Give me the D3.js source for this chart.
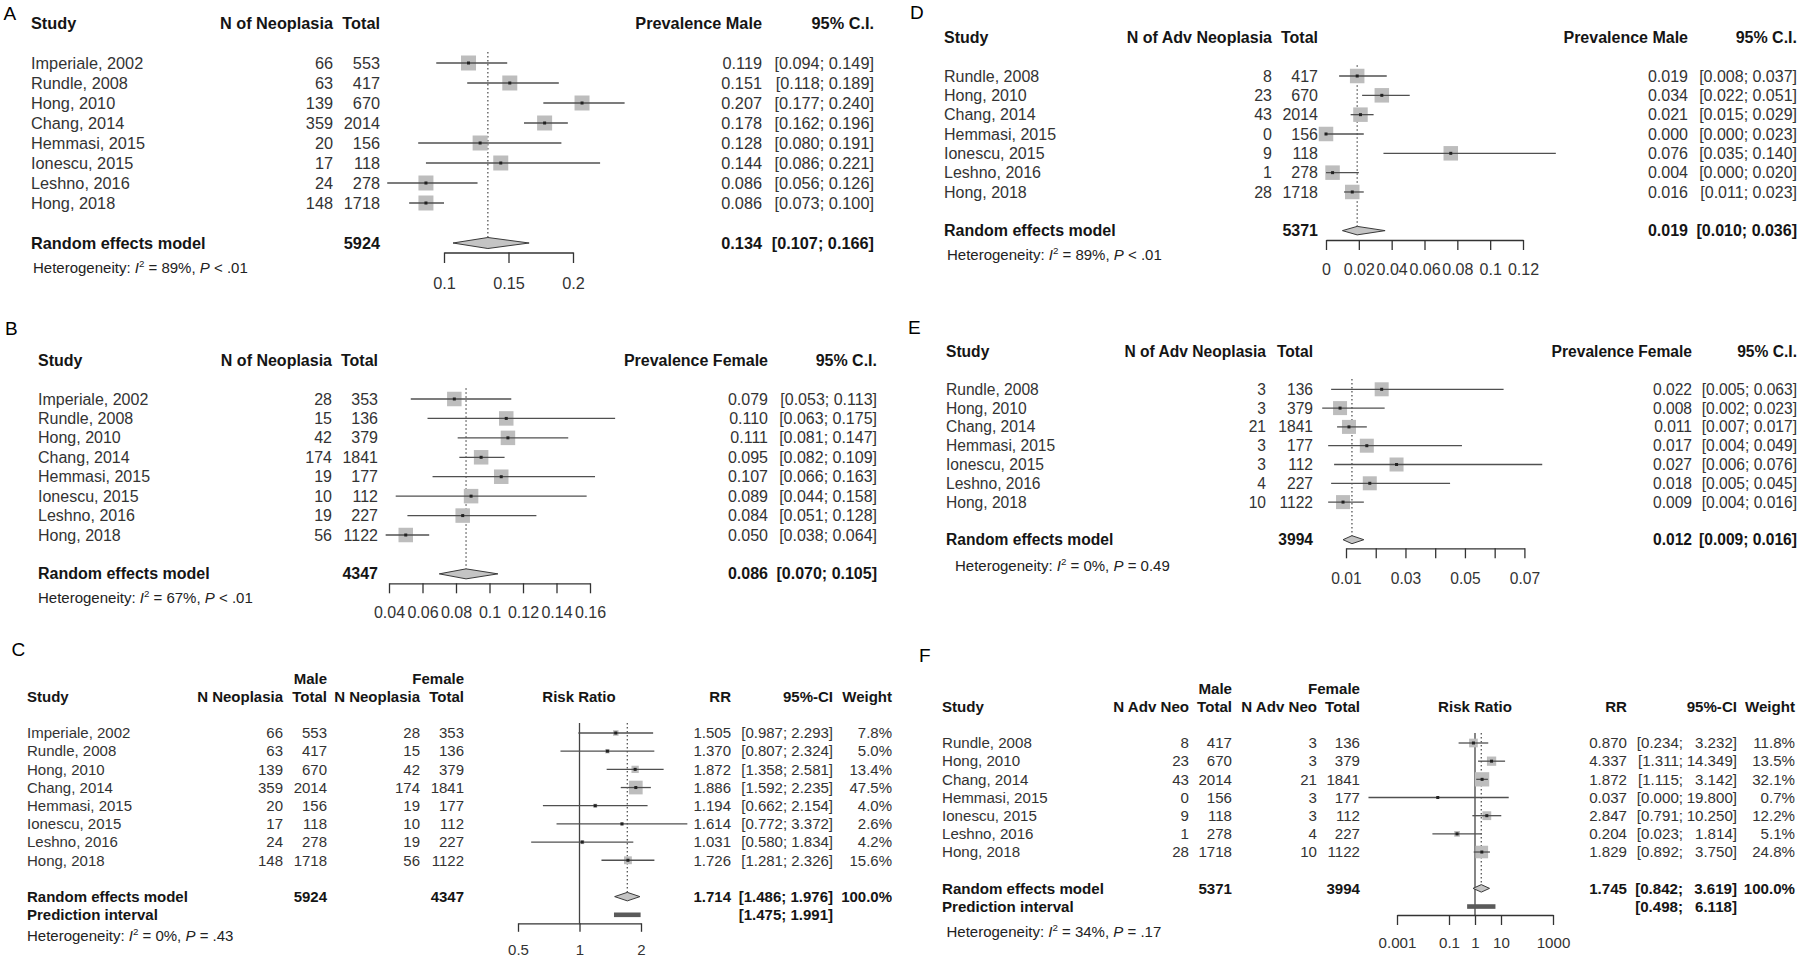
<!DOCTYPE html>
<html>
<head>
<meta charset="utf-8">
<script src="https://cdn.jsdelivr.net/npm/d3@7"></script>
<style>
  html, body { margin: 0; padding: 0; background: #ffffff; }
  svg text { font-family: "Liberation Sans", Arial, Helvetica, sans-serif; }
</style>
</head>
<body>
<svg id="chart" width="1800" height="959"></svg>
<script>
// ---------------- DATA ----------------
const studies8 = ["Imperiale, 2002", "Rundle, 2008", "Hong, 2010", "Chang, 2014",
                  "Hemmasi, 2015", "Ionescu, 2015", "Leshno, 2016", "Hong, 2018"];
const studies7 = ["Rundle, 2008", "Hong, 2010", "Chang, 2014", "Hemmasi, 2015",
                  "Ionescu, 2015", "Leshno, 2016", "Hong, 2018"];

// counts
const neoMale     = [66, 63, 139, 359, 20, 17, 24, 148];
const totMale8    = [553, 417, 670, 2014, 156, 118, 278, 1718];
const neoFemale   = [28, 15, 42, 174, 19, 10, 19, 56];
const totFemale8  = [353, 136, 379, 1841, 177, 112, 227, 1122];
const advMale     = [8, 23, 43, 0, 9, 1, 28];
const totMale7    = [417, 670, 2014, 156, 118, 278, 1718];
const advFemale   = [3, 3, 21, 3, 3, 4, 10];
const totFemale7  = [136, 379, 1841, 177, 112, 227, 1122];

// A: prevalence of neoplasia, male
const prevNeoMale   = [0.119, 0.151, 0.207, 0.178, 0.128, 0.144, 0.086, 0.086];
const prevNeoMaleLo = [0.094, 0.118, 0.177, 0.162, 0.080, 0.086, 0.056, 0.073];
const prevNeoMaleHi = [0.149, 0.189, 0.240, 0.196, 0.191, 0.221, 0.126, 0.100];
// B: prevalence of neoplasia, female
const prevNeoFem   = [0.079, 0.110, 0.111, 0.095, 0.107, 0.089, 0.084, 0.050];
const prevNeoFemLo = [0.053, 0.063, 0.081, 0.082, 0.066, 0.044, 0.051, 0.038];
const prevNeoFemHi = [0.113, 0.175, 0.147, 0.109, 0.163, 0.158, 0.128, 0.064];
// C: risk ratio of neoplasia
const rrNeo       = [1.505, 1.370, 1.872, 1.886, 1.194, 1.614, 1.031, 1.726];
const rrNeoLo     = [0.987, 0.807, 1.358, 1.592, 0.662, 0.772, 0.580, 1.281];
const rrNeoHi     = [2.293, 2.324, 2.581, 2.235, 2.154, 3.372, 1.834, 2.326];
const rrNeoWeight = [7.8, 5.0, 13.4, 47.5, 4.0, 2.6, 4.2, 15.6];
// D: prevalence of advanced neoplasia, male
const prevAdvMale   = [0.019, 0.034, 0.021, 0.000, 0.076, 0.004, 0.016];
const prevAdvMaleLo = [0.008, 0.022, 0.015, 0.000, 0.035, 0.000, 0.011];
const prevAdvMaleHi = [0.037, 0.051, 0.029, 0.023, 0.140, 0.020, 0.023];
// E: prevalence of advanced neoplasia, female
const prevAdvFem   = [0.022, 0.008, 0.011, 0.017, 0.027, 0.018, 0.009];
const prevAdvFemLo = [0.005, 0.002, 0.007, 0.004, 0.006, 0.005, 0.004];
const prevAdvFemHi = [0.063, 0.023, 0.017, 0.049, 0.076, 0.045, 0.016];
// F: risk ratio of advanced neoplasia
const rrAdv       = [0.870, 4.337, 1.872, 0.037, 2.847, 0.204, 1.829];
const rrAdvLo     = [0.234, 1.311, 1.115, 0.000, 0.791, 0.023, 0.892];
const rrAdvHi     = [3.232, 14.349, 3.142, 19.800, 10.250, 1.814, 3.750];
const rrAdvWeight = [11.8, 13.5, 32.1, 0.7, 12.2, 5.1, 24.8];

// random effects summaries (A..F)
const sumEst = [0.134, 0.086, 1.714, 0.019, 0.012, 1.745];
const sumLo  = [0.107, 0.070, 1.486, 0.010, 0.009, 0.842];
const sumHi  = [0.166, 0.105, 1.976, 0.036, 0.016, 3.619];
// prediction intervals (C, F)
const predLo = [1.475, 0.498];
const predHi = [1.991, 6.118];
// heterogeneity (A..F)
const hetI2 = ["89%", "67%", "0%", "89%", "0%", "34%"];
const hetP  = ["< .01", "< .01", "= .43", "< .01", "= 0.49", "= .17"];

// axis ticks
const ticksA = [0.1, 0.15, 0.2];
const tickLabelsA = ["0.1", "0.15", "0.2"];
const ticksB = [0.04, 0.06, 0.08, 0.1, 0.12, 0.14, 0.16];
const tickLabelsB = ["0.04", "0.06", "0.08", "0.1", "0.12", "0.14", "0.16"];
const ticksC = [0.5, 1, 2];
const tickLabelsC = ["0.5", "1", "2"];
const ticksD = [0, 0.02, 0.04, 0.06, 0.08, 0.1, 0.12];
const tickLabelsD = ["0", "0.02", "0.04", "0.06", "0.08", "0.1", "0.12"];
const ticksE = [0.01, 0.02, 0.03, 0.04, 0.05, 0.06, 0.07];
const tickLabelsE = ["0.01", "", "0.03", "", "0.05", "", "0.07"];
const ticksF = [0.001, 0.1, 1, 10, 1000];
const tickLabelsF = ["0.001", "0.1", "1", "10", "1000"];

// ---------------- DRAWING ----------------
const svg = d3.select("#chart");
const f3 = d3.format(".3f");
const f1 = d3.format(".1f");
const ci = (lo, hi) => lo.map((l, i) => `[${f3(l)}; ${f3(hi[i])}]`);

function txt(g, x, y, s, o) {
  return g.append("text")
    .attr("x", x).attr("y", y).attr("dy", "0.35em")
    .attr("text-anchor", o.anchor || "end")
    .attr("font-size", o.fs)
    .attr("font-weight", o.bold ? "bold" : "normal")
    .attr("fill", o.bold ? "#151515" : "#333333")
    .text(s);
}

function het(g, x, y, fs, i2, p) {
  const t = g.append("text").attr("x", x).attr("y", y).attr("dy", "0.35em")
    .attr("font-size", fs).attr("fill", "#222");
  t.append("tspan").text("Heterogeneity: ");
  t.append("tspan").attr("font-style", "italic").text("I");
  t.append("tspan").attr("font-size", fs * 0.65).attr("dy", -fs * 0.4).text("2");
  t.append("tspan").attr("dy", fs * 0.4).text(` = ${i2}, `);
  t.append("tspan").attr("font-style", "italic").text("P");
  t.append("tspan").text(" " + p);
}

function drawPanel(P) {
  const g = svg.append("g");
  const y = d3.scaleLinear().domain([0, 1]).range([P.rowY0, P.rowY0 + P.rowStep]);
  const x = (P.log ? d3.scaleLog() : d3.scaleLinear()).domain(P.domain).range(P.range);
  const n = P.studies.length;

  // panel letter
  g.append("text").attr("x", P.letterX).attr("y", P.letterY).attr("dy", "0.35em")
    .attr("font-size", 19).attr("fill", "#000").text(P.letter);

  // headers
  P.headers.forEach(h => txt(g, h.x, y(h.row), h.t, { anchor: h.anchor || "end", fs: P.fs, bold: true }));

  // study rows
  P.studies.forEach((s, i) => txt(g, P.studyX, y(i), s, { anchor: "start", fs: P.fs }));
  P.cols.forEach(c => c.vals.forEach((v, i) => txt(g, c.x, y(i), v, { fs: P.fs })));

  // summary row
  txt(g, P.studyX, y(P.sumRow), "Random effects model", { anchor: "start", fs: P.fs, bold: true });
  P.sumCols.forEach(c => txt(g, c.x, y(P.sumRow), c.v, { fs: P.fs, bold: true }));
  if (P.pred) {
    txt(g, P.studyX, y(P.sumRow + 1), "Prediction interval", { anchor: "start", fs: P.fs, bold: true });
    P.pred.cols.forEach(c => txt(g, c.x, y(P.sumRow + 1), c.v, { fs: P.fs, bold: true }));
  }

  // plot
  const ys = y(P.sumRow), hh = P.diamondH / 2;
  const top = y(0) - 0.55 * P.rowStep;
  if (P.nullAt != null) {
    g.append("line").attr("x1", x(P.nullAt)).attr("x2", x(P.nullAt))
      .attr("y1", top).attr("y2", P.axisY).attr("stroke", "#444").attr("stroke-width", 1.3);
  }
  g.append("line").attr("x1", x(P.sum[0])).attr("x2", x(P.sum[0]))
    .attr("y1", top).attr("y2", ys - hh)
    .attr("stroke", "#555").attr("stroke-width", 1.3).attr("stroke-dasharray", "1.5,2.5");

  const sq = P.weights
    ? (i => d3.scaleSqrt().domain([0, d3.max(P.weights)]).range([0, P.sqMax])(P.weights[i]))
    : (() => P.sqMax);

  const rows = d3.range(n);
  g.selectAll(null).data(rows).join("rect")
    .attr("x", i => x(P.est[i]) - sq(i) / 2).attr("y", i => y(i) - sq(i) / 2)
    .attr("width", i => sq(i)).attr("height", i => sq(i))
    .attr("fill", "#bdbdbd");
  g.selectAll(null).data(rows).join("line")
    .attr("x1", i => x(P.lo[i] > 0 || !P.log ? P.lo[i] : P.clipLo))
    .attr("x2", i => x(P.hi[i]))
    .attr("y1", i => y(i)).attr("y2", i => y(i))
    .attr("stroke", "#505050").attr("stroke-width", 1.3);
  g.selectAll(null).data(rows).join("rect")
    .attr("x", i => x(P.est[i]) - 1.5).attr("y", i => y(i) - 1.5)
    .attr("width", 3).attr("height", 3).attr("fill", "#222");

  // diamond
  const dpath = d3.path();
  dpath.moveTo(x(P.sum[1]), ys);
  dpath.lineTo(x(P.sum[0]), ys - hh);
  dpath.lineTo(x(P.sum[2]), ys);
  dpath.lineTo(x(P.sum[0]), ys + hh);
  dpath.closePath();
  g.append("path").attr("d", dpath.toString())
    .attr("fill", "#c4c4c4").attr("stroke", "#3a3a3a").attr("stroke-width", 1);

  // prediction interval bar
  if (P.pred) {
    g.append("rect").attr("x", x(P.pred.lo)).attr("width", x(P.pred.hi) - x(P.pred.lo))
      .attr("y", y(P.sumRow + 1) - 2.3).attr("height", 4.6).attr("fill", "#5a5a5a");
  }

  // axis
  const pad = (P.labelY - P.axisY) - P.tickSize - 0.355 * P.fs;
  const ax = g.append("g").attr("transform", `translate(0,${P.axisY})`)
    .call(d3.axisBottom(x).tickValues(P.ticks).tickFormat((d, i) => P.tickLabels[i])
      .tickSize(P.tickSize).tickSizeOuter(0).tickPadding(pad))
    .attr("font-family", '"Liberation Sans", Arial, sans-serif')
    .attr("font-size", P.fs).attr("color", "#333");
  ax.selectAll("path, line").attr("stroke-width", 1.3);

  het(g, P.hetX, P.hetY, P.hetFs, P.het[0], P.het[1]);
}

// ---------- Panel A ----------
drawPanel({
  letter: "A", letterX: 3.5, letterY: 13.5, fs: 16.3, hetFs: 15,
  rowY0: 63, rowStep: 20, studyX: 31, studies: studies8,
  headers: [
    { t: "Study", x: 31, row: -2, anchor: "start" },
    { t: "N of Neoplasia", x: 333, row: -2 },
    { t: "Total", x: 380, row: -2 },
    { t: "Prevalence Male", x: 762, row: -2 },
    { t: "95% C.I.", x: 874, row: -2 }
  ],
  cols: [
    { x: 333, vals: neoMale.map(String) },
    { x: 380, vals: totMale8.map(String) },
    { x: 762, vals: prevNeoMale.map(f3) },
    { x: 874, vals: ci(prevNeoMaleLo, prevNeoMaleHi) }
  ],
  sumRow: 9,
  sumCols: [
    { x: 380, v: String(d3.sum(totMale8)) },
    { x: 762, v: f3(sumEst[0]) },
    { x: 874, v: `[${f3(sumLo[0])}; ${f3(sumHi[0])}]` }
  ],
  est: prevNeoMale, lo: prevNeoMaleLo, hi: prevNeoMaleHi,
  sum: [sumEst[0], sumLo[0], sumHi[0]],
  log: false, domain: [0.1, 0.2], range: [444, 573],
  ticks: ticksA, tickLabels: tickLabelsA,
  axisY: 252.5, tickSize: 10.5, labelY: 283,
  sqMax: 15, diamondH: 11,
  hetX: 33, hetY: 268, het: [hetI2[0], hetP[0]]
});

// ---------- Panel B ----------
drawPanel({
  letter: "B", letterX: 5, letterY: 328.5, fs: 16, hetFs: 15,
  rowY0: 399, rowStep: 19.43, studyX: 38, studies: studies8,
  headers: [
    { t: "Study", x: 38, row: -2, anchor: "start" },
    { t: "N of Neoplasia", x: 332, row: -2 },
    { t: "Total", x: 378, row: -2 },
    { t: "Prevalence Female", x: 768, row: -2 },
    { t: "95% C.I.", x: 877, row: -2 }
  ],
  cols: [
    { x: 332, vals: neoFemale.map(String) },
    { x: 378, vals: totFemale8.map(String) },
    { x: 768, vals: prevNeoFem.map(f3) },
    { x: 877, vals: ci(prevNeoFemLo, prevNeoFemHi) }
  ],
  sumRow: 9,
  sumCols: [
    { x: 378, v: String(d3.sum(totFemale8)) },
    { x: 768, v: f3(sumEst[1]) },
    { x: 877, v: `[${f3(sumLo[1])}; ${f3(sumHi[1])}]` }
  ],
  est: prevNeoFem, lo: prevNeoFemLo, hi: prevNeoFemHi,
  sum: [sumEst[1], sumLo[1], sumHi[1]],
  log: false, domain: [0.04, 0.16], range: [389, 590],
  ticks: ticksB, tickLabels: tickLabelsB,
  axisY: 583.3, tickSize: 10, labelY: 612,
  sqMax: 14.5, diamondH: 10,
  hetX: 38, hetY: 598, het: [hetI2[1], hetP[1]]
});

// ---------- Panel C ----------
drawPanel({
  letter: "C", letterX: 11.5, letterY: 649, fs: 15, hetFs: 15,
  rowY0: 733, rowStep: 18.18, studyX: 27, studies: studies8,
  headers: [
    { t: "Male", x: 327, row: -3 },
    { t: "Female", x: 464, row: -3 },
    { t: "Study", x: 27, row: -2, anchor: "start" },
    { t: "N Neoplasia", x: 283, row: -2 },
    { t: "Total", x: 327, row: -2 },
    { t: "N Neoplasia", x: 420, row: -2 },
    { t: "Total", x: 464, row: -2 },
    { t: "Risk Ratio", x: 579, row: -2, anchor: "middle" },
    { t: "RR", x: 731, row: -2 },
    { t: "95%-CI", x: 833, row: -2 },
    { t: "Weight", x: 892, row: -2 }
  ],
  cols: [
    { x: 283, vals: neoMale.map(String) },
    { x: 327, vals: totMale8.map(String) },
    { x: 420, vals: neoFemale.map(String) },
    { x: 464, vals: totFemale8.map(String) },
    { x: 731, vals: rrNeo.map(f3) },
    { x: 833, vals: ci(rrNeoLo, rrNeoHi) },
    { x: 892, vals: rrNeoWeight.map(w => f1(w) + "%") }
  ],
  sumRow: 9,
  sumCols: [
    { x: 327, v: String(d3.sum(totMale8)) },
    { x: 464, v: String(d3.sum(totFemale8)) },
    { x: 731, v: f3(sumEst[2]) },
    { x: 833, v: `[${f3(sumLo[2])}; ${f3(sumHi[2])}]` },
    { x: 892, v: "100.0%" }
  ],
  pred: { lo: predLo[0], hi: predHi[0],
          cols: [{ x: 833, v: `[${f3(predLo[0])}; ${f3(predHi[0])}]` }] },
  est: rrNeo, lo: rrNeoLo, hi: rrNeoHi, weights: rrNeoWeight,
  sum: [sumEst[2], sumLo[2], sumHi[2]],
  log: true, domain: [0.5, 2], range: [518, 641], nullAt: 1,
  ticks: ticksC, tickLabels: tickLabelsC,
  axisY: 923.3, tickSize: 8.5, labelY: 950,
  sqMax: 13.7, diamondH: 8.5,
  hetX: 27, hetY: 936, het: [hetI2[2], hetP[2]]
});

// ---------- Panel D ----------
drawPanel({
  letter: "D", letterX: 910, letterY: 12.7, fs: 16, hetFs: 15,
  rowY0: 76, rowStep: 19.33, studyX: 944, studies: studies7,
  headers: [
    { t: "Study", x: 944, row: -2, anchor: "start" },
    { t: "N of Adv Neoplasia", x: 1272, row: -2 },
    { t: "Total", x: 1318, row: -2 },
    { t: "Prevalence Male", x: 1688, row: -2 },
    { t: "95% C.I.", x: 1797, row: -2 }
  ],
  cols: [
    { x: 1272, vals: advMale.map(String) },
    { x: 1318, vals: totMale7.map(String) },
    { x: 1688, vals: prevAdvMale.map(f3) },
    { x: 1797, vals: ci(prevAdvMaleLo, prevAdvMaleHi) }
  ],
  sumRow: 8,
  sumCols: [
    { x: 1318, v: String(d3.sum(totMale7)) },
    { x: 1688, v: f3(sumEst[3]) },
    { x: 1797, v: `[${f3(sumLo[3])}; ${f3(sumHi[3])}]` }
  ],
  est: prevAdvMale, lo: prevAdvMaleLo, hi: prevAdvMaleHi,
  sum: [sumEst[3], sumLo[3], sumHi[3]],
  log: false, domain: [0, 0.12], range: [1326, 1523],
  ticks: ticksD, tickLabels: tickLabelsD,
  axisY: 240, tickSize: 10, labelY: 269,
  sqMax: 14.5, diamondH: 8.5,
  hetX: 947, hetY: 255, het: [hetI2[3], hetP[3]]
});

// ---------- Panel E ----------
drawPanel({
  letter: "E", letterX: 908, letterY: 327, fs: 15.6, hetFs: 15,
  rowY0: 389.3, rowStep: 18.8, studyX: 946, studies: studies7,
  headers: [
    { t: "Study", x: 946, row: -2, anchor: "start" },
    { t: "N of Adv Neoplasia", x: 1266, row: -2 },
    { t: "Total", x: 1313, row: -2 },
    { t: "Prevalence Female", x: 1692, row: -2 },
    { t: "95% C.I.", x: 1797, row: -2 }
  ],
  cols: [
    { x: 1266, vals: advFemale.map(String) },
    { x: 1313, vals: totFemale7.map(String) },
    { x: 1692, vals: prevAdvFem.map(f3) },
    { x: 1797, vals: ci(prevAdvFemLo, prevAdvFemHi) }
  ],
  sumRow: 8,
  sumCols: [
    { x: 1313, v: String(d3.sum(totFemale7)) },
    { x: 1692, v: f3(sumEst[4]) },
    { x: 1797, v: `[${f3(sumLo[4])}; ${f3(sumHi[4])}]` }
  ],
  est: prevAdvFem, lo: prevAdvFemLo, hi: prevAdvFemHi,
  sum: [sumEst[4], sumLo[4], sumHi[4]],
  log: false, domain: [0.01, 0.07], range: [1346, 1524.4],
  ticks: ticksE, tickLabels: tickLabelsE,
  axisY: 548.3, tickSize: 10, labelY: 578,
  sqMax: 14, diamondH: 8,
  hetX: 955, hetY: 565.7, het: [hetI2[4], hetP[4]]
});

// ---------- Panel F ----------
drawPanel({
  letter: "F", letterX: 919, letterY: 655, fs: 15.1, hetFs: 15,
  rowY0: 743, rowStep: 18.17, studyX: 942, studies: studies7,
  headers: [
    { t: "Male", x: 1232, row: -3 },
    { t: "Female", x: 1360, row: -3 },
    { t: "Study", x: 942, row: -2, anchor: "start" },
    { t: "N Adv Neo", x: 1189, row: -2 },
    { t: "Total", x: 1232, row: -2 },
    { t: "N Adv Neo", x: 1317, row: -2 },
    { t: "Total", x: 1360, row: -2 },
    { t: "Risk Ratio", x: 1475, row: -2, anchor: "middle" },
    { t: "RR", x: 1627, row: -2 },
    { t: "95%-CI", x: 1737, row: -2 },
    { t: "Weight", x: 1795, row: -2 }
  ],
  cols: [
    { x: 1189, vals: advMale.map(String) },
    { x: 1232, vals: totMale7.map(String) },
    { x: 1317, vals: advFemale.map(String) },
    { x: 1360, vals: totFemale7.map(String) },
    { x: 1627, vals: rrAdv.map(f3) },
    { x: 1683, vals: rrAdvLo.map(v => `[${f3(v)};`) },
    { x: 1737, vals: rrAdvHi.map(v => `${f3(v)}]`) },
    { x: 1795, vals: rrAdvWeight.map(w => f1(w) + "%") }
  ],
  sumRow: 8,
  sumCols: [
    { x: 1232, v: String(d3.sum(totMale7)) },
    { x: 1360, v: String(d3.sum(totFemale7)) },
    { x: 1627, v: f3(sumEst[5]) },
    { x: 1683, v: `[${f3(sumLo[5])};` },
    { x: 1737, v: `${f3(sumHi[5])}]` },
    { x: 1795, v: "100.0%" }
  ],
  pred: { lo: predLo[1], hi: predHi[1],
          cols: [{ x: 1683, v: `[${f3(predLo[1])};` }, { x: 1737, v: `${f3(predHi[1])}]` }] },
  est: rrAdv, lo: rrAdvLo, hi: rrAdvHi, weights: rrAdvWeight,
  sum: [sumEst[5], sumLo[5], sumHi[5]],
  log: true, domain: [0.001, 1000], range: [1397, 1553], nullAt: 1, clipLo: 0.00008,
  ticks: ticksF, tickLabels: tickLabelsF,
  axisY: 915, tickSize: 10, labelY: 942.7,
  sqMax: 14.3, diamondH: 7.5,
  hetX: 946.5, hetY: 931.7, het: [hetI2[5], hetP[5]]
});
</script>
</body>
</html>
